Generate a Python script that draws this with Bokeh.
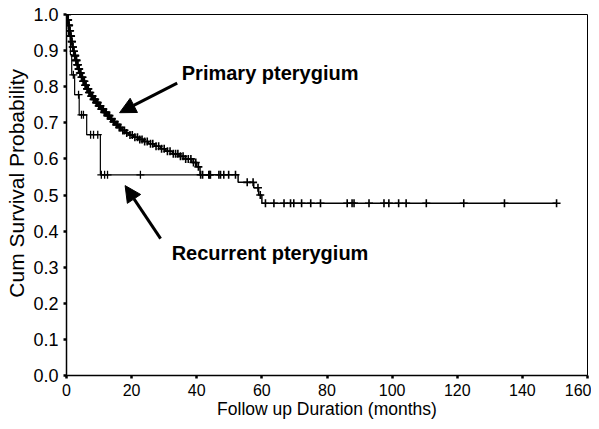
from bokeh.plotting import figure
from bokeh.models import FixedTicker, Arrow, NormalHead, Label, Range1d, PrintfTickFormatter
from bokeh.embed import file_html
from bokeh.resources import INLINE
import numpy as np

# ---------------- data ----------------
# Primary pterygium: Kaplan-Meier step times (months) and survival levels
primary_times = [0, 0.3, 0.6, 0.9, 1.2, 1.5, 1.8, 2.1, 2.4, 2.8, 3.2, 3.6, 4.0, 4.5,
                 5.0, 5.6, 6.2, 6.8, 7.5, 8.2, 9.0, 9.8, 10.6, 11.5, 12.4, 13.3,
                 14.2, 15.1, 16.0, 17.0, 18.0, 19.2, 20.5, 22.0, 23.6, 25.2, 27.0,
                 28.8, 30.5, 32.5, 34.5, 36.5, 38.5, 40.0, 41.0, 52.7, 57.5, 59.0, 60.0]
primary_surv = [1.0, 0.985, 0.97, 0.955, 0.94, 0.925, 0.91, 0.898, 0.886, 0.873, 0.861,
                0.849, 0.838, 0.826, 0.815, 0.804, 0.794, 0.784, 0.774, 0.765, 0.756,
                0.747, 0.738, 0.729, 0.72, 0.711, 0.703, 0.695, 0.687, 0.679, 0.672,
                0.666, 0.66, 0.654, 0.648, 0.642, 0.635, 0.628, 0.621, 0.614, 0.607,
                0.6, 0.59, 0.578, 0.556, 0.535, 0.52, 0.5, 0.477]
primary_end = 150.5
primary_censor = [0.1, 0.2, 0.3, 0.4, 0.5, 0.6, 0.7, 0.8, 0.9, 1.0, 1.1, 1.2, 1.3, 1.4,
                  1.6, 1.7, 1.9, 2.0, 2.2, 2.3, 2.5, 2.6, 2.7, 2.9, 3.0, 3.1, 3.3, 3.4,
                  3.5, 3.7, 3.8, 3.9, 4.1, 4.3, 4.4, 4.6, 4.8, 4.9, 5.1, 5.3, 5.5, 5.7,
                  5.9, 6.0, 6.3, 6.5, 6.7, 6.9, 7.1, 7.3, 7.6, 7.8, 8.0, 8.3, 8.5, 8.8,
                  9.1, 9.3, 9.6, 9.9, 10.2, 10.4, 10.7, 11.0, 11.3, 11.6, 11.9, 12.2,
                  12.6, 12.9, 13.2, 13.6, 13.9, 14.4, 14.8, 15.3, 15.7, 16.2, 16.6,
                  17.3, 17.8, 18.5, 19.5, 20.2, 21.0, 21.8, 22.5, 23.2, 24.0, 24.8,
                  25.8, 26.5, 27.5, 28.3, 29.2, 30.0, 31.0, 31.8, 32.8, 33.5, 34.2,
                  35.0, 35.8, 36.6, 37.4, 38.2, 39.0, 39.7, 40.5, 41.2, 41.8, 43.7,
                  44.2, 46.8, 47.3, 48.3, 49.8, 51.9, 55.5, 57.3, 58.8, 59.5, 61.1,
                  63.7, 66.8, 68.8, 69.8, 72.2, 75.0, 78.0, 86.2, 87.7, 88.3, 92.9,
                  97.5, 99.0, 102.0, 104.3, 110.5, 122.0, 134.5, 150.5]

# Recurrent pterygium
recurrent_times = [0, 0.6, 1.2, 1.6, 2.5, 3.9, 6.2, 10.4]
recurrent_surv = [1.0, 0.944, 0.889, 0.833, 0.778, 0.722, 0.667, 0.556]
recurrent_end = 44.0
recurrent_censor = [2.1, 3.7, 4.6, 5.2, 7.4, 8.3, 9.6, 10.7, 11.7, 12.6, 22.7, 44.0]

x_ticks = [0, 20, 40, 60, 80, 100, 120, 140, 160]
y_ticks = [0.0, 0.1, 0.2, 0.3, 0.4, 0.5, 0.6, 0.7, 0.8, 0.9, 1.0]
x_title = "Follow up Duration (months)"
y_title = "Cum Survival Probability"


def surv_at(times, surv, t):
    idx = np.searchsorted(np.array(times), np.array(t), side="right") - 1
    return list(np.array(surv)[idx])


FONT = "Liberation Sans"
NB = "\u00a0"

p = figure(width=591, height=421, x_range=Range1d(0, 160), y_range=Range1d(0, 1),
           output_backend="svg", toolbar_location=None,
           min_border_left=66, min_border_right=4, min_border_top=14, min_border_bottom=46)
p.xgrid.visible = False
p.ygrid.visible = False
p.outline_line_color = "black"
p.outline_line_width = 1
p.background_fill_color = "white"
p.border_fill_color = "white"

for ax in (p.xaxis, p.yaxis):
    ax.axis_line_color = "black"
    ax.axis_line_width = 1.5
    ax.major_tick_in = 0
    ax.major_tick_out = 3
    ax.major_tick_line_width = 2.5
    ax.minor_tick_line_color = None
    ax.major_label_text_font = FONT
    ax.axis_label_text_font = FONT
    ax.axis_label_text_font_style = "normal"
    ax.major_label_text_color = "black"
    ax.axis_label_text_color = "black"

p.xaxis.ticker = FixedTicker(ticks=x_ticks)
p.yaxis.ticker = FixedTicker(ticks=y_ticks)
p.yaxis.formatter = PrintfTickFormatter(format="%.1f")
p.xaxis.major_label_text_font_size = "16px"
p.yaxis.major_label_text_font_size = "18px"
p.xaxis.axis_label = x_title
# leading padding lifts the rotated title a little above the frame centre
p.yaxis.axis_label = NB * 4 + y_title
p.xaxis.axis_label_text_font_size = "17.5px"
p.yaxis.axis_label_text_font_size = "21px"
p.xaxis.major_label_standoff = 5
p.yaxis.major_label_standoff = 5
p.xaxis.axis_label_standoff = 0
p.yaxis.axis_label_standoff = 2

# step curves
px = list(primary_times) + [primary_end]
py = list(primary_surv) + [primary_surv[-1]]
p.step(px, py, mode="after", line_color="black", line_width=1.5)
rx = list(recurrent_times) + [recurrent_end]
ry = list(recurrent_surv) + [recurrent_surv[-1]]
p.step(rx, ry, mode="after", line_color="black", line_width=1.2)

p.scatter(primary_censor, surv_at(primary_times, primary_surv, primary_censor),
          marker="cross", size=8, line_color="black", line_width=1.6)
p.scatter(recurrent_censor, surv_at(recurrent_times, recurrent_surv, recurrent_censor),
          marker="cross", size=8, line_color="black", line_width=1.3)

# annotations
p.add_layout(Label(x=35.4, y=0.837, text="Primary pterygium", text_font=FONT,
                   text_font_style="bold", text_font_size="20px", text_baseline="middle",
                   text_color="black"))
p.add_layout(Label(x=32.3, y=0.34, text="Recurrent pterygium", text_font=FONT,
                   text_font_style="bold", text_font_size="20px", text_baseline="middle",
                   text_color="black"))
p.add_layout(Arrow(end=NormalHead(size=16, fill_color="black", line_color="black"),
                   x_start=34.0, y_start=0.81, x_end=16.3, y_end=0.728,
                   line_color="black", line_width=3))
p.add_layout(Arrow(end=NormalHead(size=16, fill_color="black", line_color="black"),
                   x_start=28.9, y_start=0.379, x_end=18.0, y_end=0.526,
                   line_color="black", line_width=3))

open("out.html", "w").write(file_html(p, INLINE))
